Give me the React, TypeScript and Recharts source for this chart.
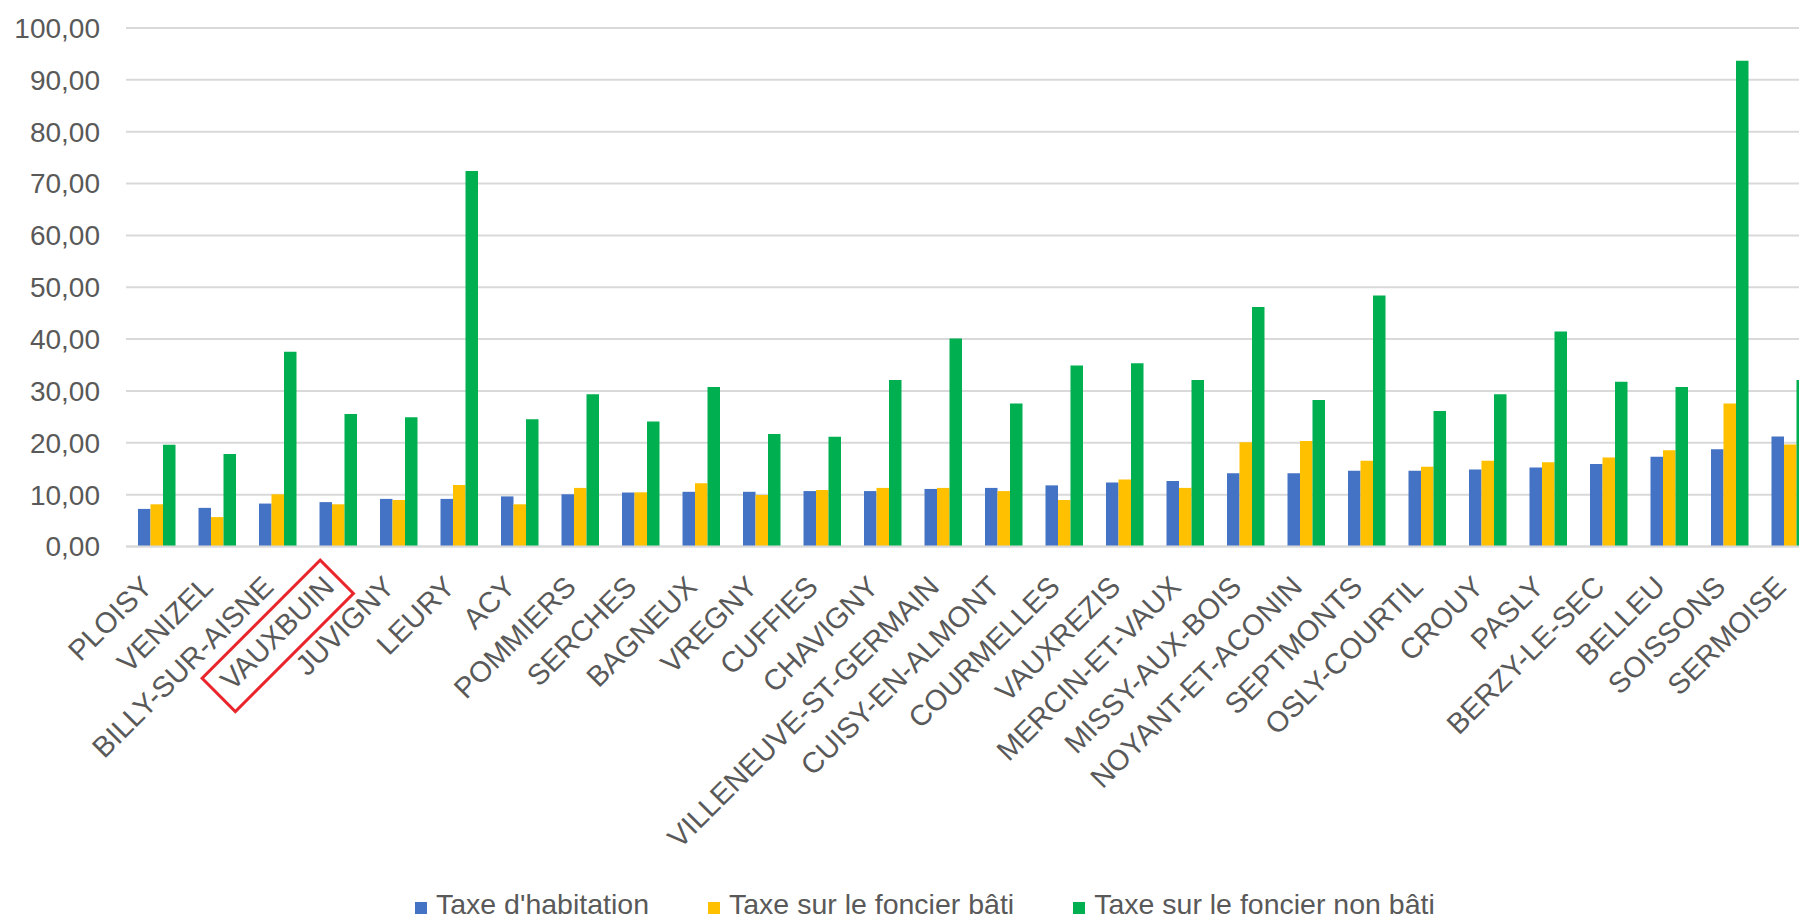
import { BarChart, Bar, XAxis, YAxis, CartesianGrid, Legend } from "recharts";

// communes, triées par taxe d'habitation
const communes = [
  "PLOISY", "VENIZEL", "BILLY-SUR-AISNE", "VAUXBUIN", "JUVIGNY", "LEURY", "ACY",
  "POMMIERS", "SERCHES", "BAGNEUX", "VREGNY", "CUFFIES", "CHAVIGNY",
  "VILLENEUVE-ST-GERMAIN", "CUISY-EN-ALMONT", "COURMELLES", "VAUXREZIS",
  "MERCIN-ET-VAUX", "MISSY-AUX-BOIS", "NOYANT-ET-ACONIN", "SEPTMONTS",
  "OSLY-COURTIL", "CROUY", "PASLY", "BERZY-LE-SEC", "BELLEU", "SOISSONS", "SERMOISE",
];

const taxeHabitation = [
  7.25, 7.45, 8.28, 8.56, 9.18, 9.18, 9.66, 10.07, 10.41, 10.55, 10.55, 10.69, 10.69,
  11.1, 11.3, 11.79, 12.34, 12.62, 14.14, 14.14, 14.62, 14.62, 14.83, 15.24, 15.93,
  17.3, 18.75, 21.23,
];

const foncierBati = [
  8.14, 5.67, 10.07, 8.14, 8.97, 11.86, 8.14, 11.3, 10.45, 12.2, 9.93, 10.9, 11.3,
  11.3, 10.69, 8.97, 12.9, 11.3, 20.13, 20.33, 16.55, 15.37, 16.55, 16.27, 17.17,
  18.54, 27.56, 19.65,
];

const foncierNonBati = [
  19.6, 17.85, 37.55, 25.57, 24.95, 72.4, 24.53, 29.35, 24.12, 30.74, 21.72, 21.16,
  32.1, 40.1, 27.56, 34.93, 35.35, 32.1, 46.17, 28.25, 48.43, 26.11, 29.35, 41.48,
  31.77, 30.74, 93.7, 32.1,
];

const yTicks = [0, 10, 20, 30, 40, 50, 60, 70, 80, 90, 100];

const highlighted = "VAUXBUIN";

const series = [
  { key: "habitation", name: "Taxe d'habitation", color: "#4472C4" },
  { key: "bati", name: "Taxe sur le foncier bâti", color: "#FFC000" },
  { key: "nonBati", name: "Taxe sur le foncier non bâti", color: "#00B050" },
];

const FONT = "'Liberation Sans', Arial, Helvetica, sans-serif";
const TEXT = "#595959";

const data = communes.map((name, i) => ({
  name,
  habitation: taxeHabitation[i],
  bati: foncierBati[i],
  nonBati: foncierNonBati[i],
}));

const formatFr = (v: number) => v.toFixed(2).replace(".", ",");

// étiquette inclinée à 45°, avec le cadre rouge autour de la commune mise en avant
const CommuneTick = ({ x, y, payload }: any) => {
  const ax = x - 2;
  const ay = y + 42;
  return (
    <g transform={`rotate(-45, ${ax}, ${ay})`}>
      <text
        x={ax}
        y={ay}
        textAnchor="end"
        fill={TEXT}
        fontSize={29}
        fontFamily={FONT}
      >
        {payload.value}
      </text>
      {payload.value === highlighted && (
        <rect
          x={ax - 158}
          y={ay - 31}
          width={167}
          height={47}
          fill="none"
          stroke="#E8262B"
          strokeWidth={3}
        />
      )}
    </g>
  );
};

const renderLegend = () => (
  <div style={{ display: "flex", fontFamily: FONT, fontSize: 28.5, lineHeight: "28px", color: TEXT, whiteSpace: "nowrap" }}>
    {series.map((s, i) => (
      <div key={s.key} style={{ marginRight: i < series.length - 1 ? 59 : 0 }}>
        <span
          style={{
            display: "inline-block",
            width: 12,
            height: 12,
            background: s.color,
            marginRight: 9,
            verticalAlign: "baseline",
          }}
        />
        {s.name}
      </div>
    ))}
  </div>
);

export default function App() {
  return (
    <div
      style={{
        position: "absolute",
        left: 0,
        top: 0,
        width: 1799,
        height: 921,
        overflow: "hidden",
        background: "#fff",
      }}
    >
      <BarChart
        width={1820}
        height={921}
        data={data}
        margin={{ top: 28, right: 0, left: 0, bottom: 0 }}
        barGap={0}
        barSize={12.5}
      >
        <CartesianGrid vertical={false} stroke="#D9D9D9" strokeWidth={2} />
        <XAxis
          dataKey="name"
          interval={0}
          height={374.5}
          tickLine={false}
          tickSize={0}
          tickMargin={0}
          axisLine={{ stroke: "#D9D9D9", strokeWidth: 2 }}
          tick={<CommuneTick />}
        />
        <YAxis
          width={126}
          domain={[0, 100]}
          ticks={yTicks}
          axisLine={false}
          tickLine={false}
          tickSize={0}
          tickMargin={26}
          tickFormatter={formatFr}
          tick={{ fill: TEXT, fontSize: 28, fontFamily: FONT }}
        />
        <Legend
          layout="horizontal"
          verticalAlign="middle"
          align="center"
          content={renderLegend}
          wrapperStyle={{ top: 890, left: 415, width: "auto" }}
        />
        {series.map((s) => (
          <Bar
            key={s.key}
            dataKey={s.key}
            name={s.name}
            fill={s.color}
            isAnimationActive={false}
          />
        ))}
      </BarChart>
    </div>
  );
}
